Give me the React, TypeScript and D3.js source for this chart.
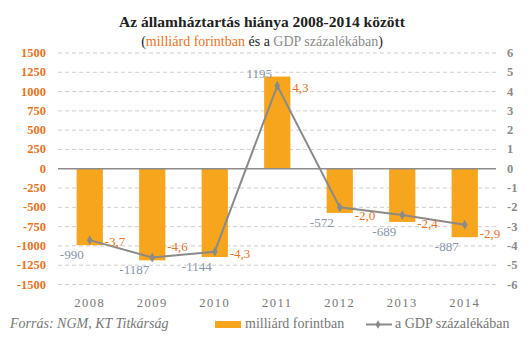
import React from "react";
import * as d3 from "d3";

const years = ["2008", "2009", "2010", "2011", "2012", "2013", "2014"];
const billionHuf = [-990, -1187, -1144, 1195, -572, -689, -887];
const gdpPercent = [-3.7, -4.6, -4.3, 4.3, -2.0, -2.4, -2.9];
const leftTicks = [1500, 1250, 1000, 750, 500, 250, 0, -250, -500, -750, -1000, -1250, -1500];
const rightTicks = [6, 5, 4, 3, 2, 1, 0, -1, -2, -3, -4, -5, -6];

const W = 530;
const H = 341;
const FONT = "'Liberation Serif', 'DejaVu Serif', serif";
const ORANGE = "#e8731f";
const BAR = "#f7a51d";
const GRAY = "#8a8a8a";
const LABEL = "#8796aa";

export default function App() {
  const x = d3.scaleBand<string>().domain(years).range([58.5, 496]).paddingInner(0.58).paddingOuter(0.29);
  const yL = d3.scaleLinear().domain([-1500, 1500]).range([284.5, 53]);
  const yR = d3.scaleLinear().domain([-6, 6]).range([284.5, 53]);
  const cx = (y: string) => (x(y) as number) + x.bandwidth() / 2;
  const line = d3
    .line<number>()
    .x((_, i) => cx(years[i]))
    .y((d) => yR(d));
  const fmt = (v: number) => v.toFixed(1).replace(".", ",");
  const minPct = d3.min(gdpPercent) as number;

  return (
    <svg width={W} height={H} style={{ position: "absolute", left: 0, top: 0, background: "#fff" }} fontFamily={FONT}>
      <text x={262} y={27} textAnchor="middle" fontSize={15.5} fontWeight="bold" fill="#222">
        Az államháztartás hiánya 2008-2014 között
      </text>
      <text x={262} y={46} textAnchor="middle" fontSize={14} fill="#222">
        (<tspan fill={ORANGE}>milliárd forintban</tspan> és a <tspan fill={GRAY}>GDP százalékában</tspan>)
      </text>

      {leftTicks.map((t) => (
        <g key={"g" + t}>
          {t !== 0 && (
            <line x1={58} x2={496} y1={yL(t)} y2={yL(t)} stroke="#cfcfcf" strokeDasharray="4,3" strokeWidth={1} />
          )}
          <text x={46} y={yL(t) + 4} textAnchor="end" fontSize={12.5} fontWeight="bold" fill={ORANGE}>
            {t}
          </text>
        </g>
      ))}
      {rightTicks.map((t) => (
        <text key={"r" + t} x={507} y={yR(t) + 4} textAnchor="start" fontSize={12.5} fontWeight="bold" fill={GRAY}>
          {t}
        </text>
      ))}

      {billionHuf.map((v, i) => (
        <rect
          key={"b" + i}
          x={x(years[i])}
          width={x.bandwidth()}
          y={Math.min(yL(v), yL(0))}
          height={Math.abs(yL(v) - yL(0))}
          fill={BAR}
        />
      ))}
      <line x1={58} x2={496} y1={yL(0)} y2={yL(0)} stroke="#8c8c8c" strokeWidth={1.5} />

      {billionHuf.map((v, i) => (
        <text
          key={"bl" + i}
          x={cx(years[i]) - 18}
          y={v < 0 ? yL(v) + 14 : yL(v) + 1}
          textAnchor="middle"
          fontSize={13}
          fill={LABEL}
        >
          {v}
        </text>
      ))}

      <path d={line(gdpPercent) || ""} fill="none" stroke={GRAY} strokeWidth={2} />
      {gdpPercent.map((v, i) => (
        <path
          key={"m" + i}
          transform={`translate(${cx(years[i])},${yR(v)})`}
          d={d3.symbol(d3.symbolDiamond, 28)() || ""}
          fill={GRAY}
        />
      ))}
      {gdpPercent.map((v, i) => (
        <text
          key={"pl" + i}
          x={cx(years[i]) + 15}
          y={yR(v) + (v === minPct ? -6 : v < 0 && v > -3 ? 13 : 6)}
          fontSize={13}
          fill={ORANGE}
        >
          {fmt(v)}
        </text>
      ))}

      {years.map((y) => (
        <text key={"y" + y} x={cx(y)} y={307} textAnchor="middle" fontSize={12.5} fill="#777" letterSpacing={1.5}>
          {y}
        </text>
      ))}

      <text x={10} y={328} fontSize={14} fontStyle="italic" fill="#777">
        Forrás: NGM, KT Titkárság
      </text>
      <rect x={215} y={321} width={26} height={7} fill={BAR} />
      <text x={245} y={328} fontSize={14} fill="#777">
        milliárd forintban
      </text>
      <line x1={366} x2={392} y1={324.5} y2={324.5} stroke={GRAY} strokeWidth={2} />
      <path transform="translate(378,324.5)" d={d3.symbol(d3.symbolDiamond, 22)() || ""} fill={GRAY} />
      <text x={395} y={328} fontSize={14} fill="#777">
        a GDP százalékában
      </text>
    </svg>
  );
}
